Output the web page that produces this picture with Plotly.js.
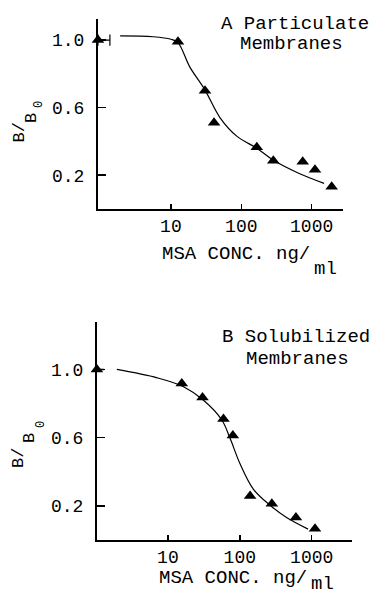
<!DOCTYPE html>
<html>
<head>
<meta charset="utf-8">
<script src="https://cdn.plot.ly/plotly-3.0.1.min.js"></script>
<style>
  html, body { margin: 0; padding: 0; background: #ffffff; }
  #chart { width: 378px; height: 596px; }
</style>
</head>
<body>
<div id="chart"></div>
<script>
// ---- Panel A: Particulate membranes ----
const concA = [0.92, 12.6, 30.5, 41, 166, 285, 746, 1114, 1923];   // first point = zero dose (drawn on axis)
const ratioA = [1.0, 0.99, 0.70, 0.51, 0.365, 0.285, 0.28, 0.232, 0.132];
const fitConcA = [1.9, 5.6, 10, 12.6, 18.6, 30, 50, 87, 166, 282, 630, 1500];
const fitRatioA = [1.025, 1.02, 1.005, 0.985, 0.84, 0.71, 0.54, 0.43, 0.36, 0.29, 0.215, 0.152];
const breakConcA = [0.92, 1.36];
const breakRatioA = [1.0, 1.0];

// ---- Panel B: Solubilized membranes ----
const concB = [1.03, 15.6, 30.3, 59.3, 80, 139, 279, 603, 1111];   // first point = zero dose (drawn on axis)
const ratioB = [1.0, 0.918, 0.835, 0.709, 0.613, 0.258, 0.213, 0.132, 0.066];
const fitConcB = [1.95, 7.1, 16.5, 31, 56, 73, 100, 155, 263, 447, 890];
const fitRatioB = [1.0, 0.951, 0.899, 0.821, 0.705, 0.598, 0.45, 0.297, 0.204, 0.132, 0.064];
const breakConcB = [1.03, 1.3];
const breakRatioB = [1.0, 1.0];

// ---- Tick labels ----
const xTickVals = [10, 100, 1000];
const xTickText = ['10', '100', '1000'];
const yTickVals = [0.2, 0.6, 1.0];
const yTickText = ['0.2', '0.6', '1.0'];

const FONT = 'Liberation Mono, Courier New, DejaVu Sans Mono, monospace';
const lineStyle = {color: '#000', width: 1.2, shape: 'spline', smoothing: 1};
const markerStyle = {symbol: 'triangle-up', size: 11, color: '#000'};

const traces = [
  {x: fitConcA, y: fitRatioA, mode: 'lines', line: lineStyle, xaxis: 'x', yaxis: 'y', hoverinfo: 'skip'},
  {x: breakConcA, y: breakRatioA, mode: 'lines+markers', line: {color: '#000', width: 1.2},
   marker: {symbol: 'line-ns-open', size: 8, color: '#000', line: {width: 1.2, color: '#000'}},
   xaxis: 'x', yaxis: 'y', cliponaxis: false, hoverinfo: 'skip'},
  {x: concA, y: ratioA, mode: 'markers', marker: markerStyle, xaxis: 'x', yaxis: 'y', cliponaxis: false},
  {x: fitConcB, y: fitRatioB, mode: 'lines', line: lineStyle, xaxis: 'x2', yaxis: 'y2', hoverinfo: 'skip'},
  {x: breakConcB, y: breakRatioB, mode: 'lines', line: {color: '#000', width: 1.4},
   xaxis: 'x2', yaxis: 'y2', cliponaxis: false, hoverinfo: 'skip'},
  {x: concB, y: ratioB, mode: 'markers', marker: markerStyle, xaxis: 'x2', yaxis: 'y2', cliponaxis: false}
];

function xAxis(domain, range, anchor) {
  return {
    domain: domain, anchor: anchor, type: 'log', range: range,
    tickvals: xTickVals, ticktext: xTickText,
    ticks: 'inside', ticklen: 5, tickwidth: 1.5, tickcolor: '#000',
    showline: true, linewidth: 1.8, linecolor: '#000',
    showgrid: false, zeroline: false,
    tickfont: {family: FONT, size: 18, color: '#000'}
  };
}
function yAxis(domain, range, anchor) {
  return {
    domain: domain, anchor: anchor, range: range,
    tickvals: yTickVals, ticktext: yTickText,
    ticks: 'inside', ticklen: 8, tickwidth: 1.5, tickcolor: '#000',
    showline: true, linewidth: 1.8, linecolor: '#000',
    showgrid: false, zeroline: false,
    ticklabelstandoff: 8,
    tickfont: {family: FONT, size: 18, color: '#000'}
  };
}

const W = 378, H = 596;
function px(x) { return x / W; }
function py(y) { return 1 - y / H; }

const annFont = {family: FONT, size: 19, color: '#000'};
const yTitleFont = {family: FONT, size: 17, color: '#000'};
const ySubFont = {family: FONT, size: 12, color: '#000'};
function ann(text, x, y, font, extra) {
  return Object.assign({text: text, x: px(x), y: py(y), xref: 'paper', yref: 'paper', showarrow: false,
    font: font, xanchor: 'center', yanchor: 'middle'}, extra || {});
}
const annotations = [
  ann('A Particulate', 295, 24, annFont),
  ann('Membranes', 291, 44, annFont),
  ann('B Solubilized', 296, 336.5, annFont),
  ann('Membranes', 297.5, 358.5, annFont),
  // x titles
  ann('MSA CONC. ng/', 160, 254, annFont, {xanchor: 'left'}),
  ann('ml', 312, 269, annFont, {xanchor: 'left'}),
  ann('MSA CONC. ng/', 157, 578, annFont, {xanchor: 'left'}),
  ann('ml', 309, 584, annFont, {xanchor: 'left'}),
  // y titles  (B / B0)
  ann('B/', 18.5, 133, yTitleFont, {textangle: -90}),
  ann('B', 31.5, 118.5, yTitleFont, {textangle: -90}),
  ann('0', 39, 105, ySubFont, {textangle: -90}),
  ann('B/', 18.5, 458.5, yTitleFont, {textangle: -90}),
  ann('B', 29.5, 438.5, yTitleFont, {textangle: -90}),
  ann('0', 41, 425, ySubFont, {textangle: -90})
];

const layout = {
  width: W, height: H,
  margin: {l: 0, r: 0, t: 0, b: 0},
  paper_bgcolor: '#fff', plot_bgcolor: '#fff',
  showlegend: false,
  font: {family: FONT, color: '#000'},
  xaxis: xAxis([px(97.7), px(343)], [-0.04, 3.445], 'y'),
  yaxis: yAxis([py(209), py(19)], [0, 1.125], 'x'),
  xaxis2: xAxis([px(96.7), px(351.7)], [0.01, 3.556], 'y2'),
  yaxis2: yAxis([py(540), py(321.7)], [0, 1.28], 'x2'),
  annotations: annotations
};

Plotly.newPlot('chart', traces, layout, {staticPlot: true, displayModeBar: false});
</script>
</body>
</html>
